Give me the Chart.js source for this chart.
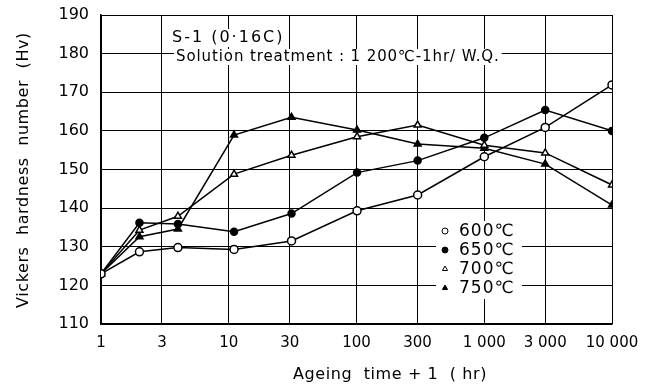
<!DOCTYPE html>
<html>
<head>
<meta charset="utf-8">
<script src="https://cdn.jsdelivr.net/npm/chart.js@4.4.1/dist/chart.umd.min.js"></script>
<style>
  html, body { margin: 0; padding: 0; background: #fff; }
  #wrap { width: 660px; height: 387px; }
</style>
</head>
<body>
<div id="wrap"><canvas id="hvChart" width="660" height="387"></canvas></div>
<script>
// ageing time + 1 (hr)
var ageingTime = [1, 2, 4, 11, 31, 101, 301, 1001, 3001, 10001];
var hv600 = [123, 128.7, 129.8, 129.3, 131.5, 139.3, 143.4, 153.3, 160.9, 171.9];
var hv650 = [123, 136.2, 135.9, 133.9, 138.6, 149.2, 152.3, 158.2, 165.4, 160];
var hv700 = [123, 134.3, 137.9, 148.8, 153.7, 158.5, 161.5, 156.3, 154.3, 146];
var hv750 = [123, 132.6, 134.6, 158.9, 163.5, 160.2, 156.6, 155.5, 151.4, 140.8];

var xTicks = [1, 3, 10, 30, 100, 300, 1000, 3000, 10000];
var xTickLabels = ['1', '3', '10', '30', '100', '300', '1 000', '3 000', '10 000'];
var seriesNames = ['600℃', '650℃', '700℃', '750℃'];

var FONT = 'DejaVu Sans';

function pts(ys) {
  return ageingTime.map(function(x, i) { return { x: x, y: ys[i] }; });
}

function ds(label, ys, style, filled, r) {
  return {
    label: label,
    data: pts(ys),
    borderColor: '#000',
    borderWidth: 1.5,
    pointStyle: style,
    pointRadius: r,
    pointBorderWidth: 1.5,
    pointBorderColor: '#000',
    pointBackgroundColor: filled ? '#000' : '#fff',
    tension: 0,
    fill: false
  };
}

// texts, legend box and axis titles
var notes = {
  id: 'notes',
  beforeDatasetsDraw: function(chart) {
    var ctx = chart.ctx;
    ctx.save();
    ctx.textBaseline = 'middle';
    ctx.textAlign = 'left';

    ctx.font = '16px "' + FONT + '"';
    ctx.letterSpacing = '2px';
    var t1 = 'S-1 (0·16C)';
    var w1 = ctx.measureText(t1).width;
    ctx.fillStyle = '#fff';
    ctx.fillRect(170, 29, w1 + 4, 18);
    ctx.fillStyle = '#000';
    ctx.fillText(t1, 172, 38);

    ctx.font = '15px "' + FONT + '"';
    ctx.letterSpacing = '0.9px';
    var t2 = 'Solution treatment : 1 200℃-1hr/ W.Q.';
    var w2 = ctx.measureText(t2).width;
    ctx.fillStyle = '#fff';
    ctx.fillRect(174, 49, w2 + 4, 16);
    ctx.fillStyle = '#000';
    ctx.fillText(t2, 176, 57);

    // legend
    ctx.fillStyle = '#fff';
    ctx.fillRect(436, 221, 86, 78);
    var rows = [231, 250, 269, 288];
    var sets = chart.data.datasets;
    ctx.font = '17px "' + FONT + '"';
    ctx.letterSpacing = '1px';
    rows.forEach(function(y, i) {
      var d = sets[i];
      ctx.fillStyle = d.pointBackgroundColor;
      ctx.strokeStyle = '#000';
      Chart.helpers.drawPoint(ctx, {
        pointStyle: d.pointStyle, radius: 3, borderWidth: 1.2, rotation: 0
      }, 445, y);
      ctx.fillStyle = '#000';
      ctx.fillText(seriesNames[i], 459, y + 1);
    });

    // axis titles
    ctx.font = '16px "' + FONT + '"';
    ctx.letterSpacing = '0.6px';
    ctx.textAlign = 'center';
    ctx.fillText('Ageing  time + 1  ( hr)', 390, 375);
    ctx.translate(24, 170);
    ctx.rotate(-Math.PI / 2);
    ctx.fillText('Vickers  hardness  number  (Hv)', 0, 0);
    ctx.restore();
  }
};

var ctx = document.getElementById('hvChart').getContext('2d');
new Chart(ctx, {
  type: 'line',
  data: {
    datasets: [
      ds(seriesNames[0], hv600, 'circle', false, 4),
      ds(seriesNames[1], hv650, 'circle', true, 3.5),
      ds(seriesNames[2], hv700, 'triangle', false, 4),
      ds(seriesNames[3], hv750, 'triangle', true, 4)
    ]
  },
  options: {
    responsive: false,
    animation: false,
    layout: { padding: { top: 15, right: 48, left: 0, bottom: 0 } },
    plugins: {
      legend: { display: false },
      tooltip: { enabled: false }
    },
    scales: {
      x: {
        type: 'logarithmic',
        min: 1,
        max: 10000,
        afterBuildTicks: function(scale) {
          scale.ticks = xTicks.map(function(v) { return { value: v }; });
        },
        afterFit: function(scale) { scale.height = 63; },
        ticks: {
          autoSkip: false,
          maxRotation: 0,
          color: '#000',
          padding: 10,
          font: { family: FONT, size: 15 },
          callback: function(v, i) { return xTickLabels[i]; }
        },
        grid: { color: '#000', lineWidth: 1, drawTicks: false },
        border: { color: '#000', width: 1.5 }
      },
      y: {
        min: 110,
        max: 190,
        afterFit: function(scale) {
          scale.width = 101;
          scale.paddingTop = 0;
          scale.paddingBottom = 0;
        },
        ticks: {
          stepSize: 10,
          color: '#000',
          padding: 12,
          font: { family: FONT, size: 16 }
        },
        grid: { color: '#000', lineWidth: 1, drawTicks: false },
        border: { color: '#000', width: 1.5 }
      }
    }
  },
  plugins: [notes]
});
</script>
</body>
</html>
